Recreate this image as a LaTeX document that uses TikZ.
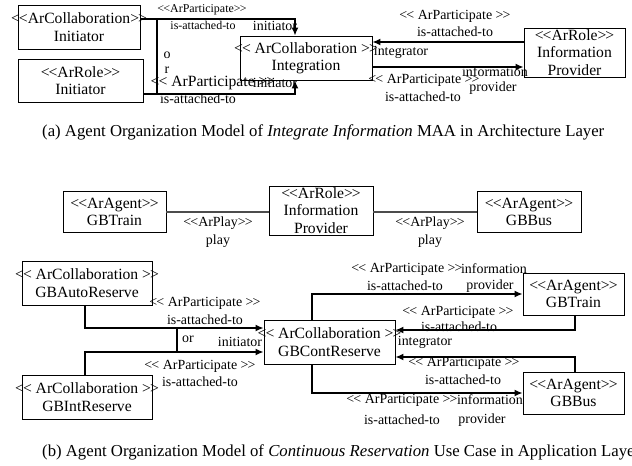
\documentclass[tikz,border=0pt]{standalone}
\usepackage{fontspec}
\setmainfont{Liberation Serif}
\usetikzlibrary{arrows.meta}
% stereotype brackets kept as two separate glyphs
\newcommand\stL{<\kern-0.06em<}
\newcommand\stR{>\kern-0.06em>}
\newcommand\boxfont{\fontsize{15.7}{17.5}\selectfont}
\newcommand\capfont{\fontsize{16.8}{19}\selectfont}
\newcommand\labfont{\fontsize{14}{15}\selectfont}
\newcommand\smallfont{\fontsize{12}{13}\selectfont}
\begin{document}
\begin{tikzpicture}[x=1bp, y=-1bp,
  bx/.style 2 args={draw, line width=0.8bp, minimum width=#1bp, minimum height=#2bp, inner sep=0pt},
  bt/.style={font=\boxfont, align=center, inner sep=0pt},
  lab/.style={font=\labfont, inner sep=0pt},
  sml/.style={font=\smallfont, inner sep=0pt},
  big/.style={font=\boxfont, inner sep=0pt},
  captxt/.style={font=\capfont, inner sep=0pt, anchor=west},
  conn/.style={line width=1.6bp, -{Latex[length=8bp,width=7bp]}},
  orline/.style={line width=1.2bp},
  playline/.style={line width=1.1bp, draw=black!70}]
\useasboundingbox (0,0) rectangle (632,466);

% ---------- (a) architecture layer ----------
\node[bx={122}{44}, label={[bt]center:{\stL ArCollaboration\stR\\Initiator}}] (a1) at (79,27) {};
\node[bx={125}{43}, label={[bt]center:{\stL ArRole\stR\\Initiator}}] (a2) at (80.5,80.5) {};
\node[bx={132}{44}, label={[bt]center:{\stL{} ArCollaboration \stR\\Integration}}] (in) at (306,58) {};
\node[bx={101}{49}, label={[bt]center:{\stL ArRole\stR\\Information\\Provider}}] (ip) at (574.5,52.5) {};

\draw[conn] ([yshift=8bp]a1.east) -| ([xshift=-11bp]in.north);
\draw[conn] ([yshift=-13.5bp]a2.east) -| ([xshift=-11bp]in.south);
\coordinate (ora) at (157,19);
\coordinate (orb) at (157,94);
\draw[orline] (ora) -- (orb);
\draw[conn] ([yshift=10.5bp]ip.west) -- ([yshift=10.5bp]ip.west -| in.east);
\draw[conn] ([yshift=-9bp]in.east) -- ([yshift=-9bp]in.east -| ip.west);

\node[sml] (pa1) at (202,10) {\stL ArParticipate\stR};
\node[sml] (pa2) at (203,25) {is-attached-to};
\node[lab] (ini1) at (275,26) {initiator};
\node[lab] (o1) at (167,55) {o};
\node[lab] (r1) at (167,70) {r};
\node[big] (pb1) at (213,83) {\stL{} ArParticipate \stR};
\node[lab] (ini2) at (275,83) {initiator};
\node[lab] (pb2) at (198,99) {is-attached-to};
\node[lab] (pc1) at (455,16) {\stL{} ArParticipate \stR};
\node[lab] (pc2) at (455,32) {is-attached-to};
\node[lab] (int1) at (401,52) {integrator};
\node[lab] (pd1) at (424,80) {\stL{} ArParticipate \stR};
\node[lab] (pd2) at (423,97) {is-attached-to};
\node[lab] (inf1) at (495,72) {information};
\node[lab] (prv1) at (493,88) {provider};

\node[captxt] (capa) at (42,132) {(a) Agent Organization Model of \textit{Integrate Information} MAA in Architecture Layer};

% ---------- (b) application layer ----------
\node[bx={103}{41}, label={[bt]center:{\stL ArAgent\stR\\GBTrain}}] (t1) at (114.5,212) {};
\node[bx={104}{49}, label={[bt]center:{\stL ArRole\stR\\Information\\Provider}}] (ip2) at (321,210.5) {};
\node[bx={104}{41}, label={[bt]center:{\stL ArAgent\stR\\GBBus}}] (b1) at (529,212) {};
\draw[playline] (t1.east) -- (t1.east -| ip2.west);
\draw[playline] (b1.west) -- (b1.west -| ip2.east);
\node[lab] (pl1) at (218,223) {\stL ArPlay\stR};
\node[lab] (pl2) at (218,241) {play};
\node[lab] (pl3) at (430,223) {\stL ArPlay\stR};
\node[lab] (pl4) at (430,241) {play};

\node[bx={130}{44}, label={[bt]center:{\stL{} ArCollaboration \stR\\GBAutoReserve}}] (ar) at (87,283) {};
\node[bx={130}{44}, label={[bt]center:{\stL{} ArCollaboration \stR\\GBIntReserve}}] (ir) at (87,397) {};
\node[bx={131}{44}, label={[bt]center:{\stL{} ArCollaboration \stR\\GBContReserve}}] (cr) at (329.5,342) {};
\node[bx={101}{42}, label={[bt]center:{\stL ArAgent\stR\\GBTrain}}] (t2) at (573.5,294) {};
\node[bx={101}{42}, label={[bt]center:{\stL ArAgent\stR\\GBBus}}] (b2) at (573.5,393) {};

\draw[conn] ([xshift=-2bp]ar.south) |- ([yshift=14bp]cr.west);
\draw[conn] ([xshift=-2bp]ir.north) |- ([yshift=-10bp]cr.west);
\coordinate (orc) at (177,328);
\coordinate (ord) at (177,352);
\draw[orline] (orc) -- (ord);
\draw[conn] ([xshift=-17.5bp]cr.north) |- (t2.west);
\draw[conn] ([xshift=1.5bp]t2.south) |- ([yshift=12bp]cr.east);
\draw[conn] ([xshift=1.5bp]b2.north) |- ([yshift=-15bp]cr.east);
\draw[conn] ([xshift=-17.5bp]cr.south) |- (b2.west);

\node[lab] (pe1) at (205,303) {\stL{} ArParticipate \stR};
\node[lab] (pe2) at (205,320) {is-attached-to};
\node[lab] (or2) at (188,339) {or};
\node[lab] (ini3) at (240,342) {initiator};
\node[lab] (pf1) at (200,366) {\stL{} ArParticipate \stR};
\node[lab] (pf2) at (200,382) {is-attached-to};
\node[lab] (pg1) at (407,269) {\stL{} ArParticipate \stR};
\node[lab] (inf2) at (494,269) {information};
\node[lab] (pg2) at (405,286) {is-attached-to};
\node[lab] (prv2) at (490,286) {provider};
\node[lab] (ph1) at (458,312) {\stL{} ArParticipate \stR};
\node[lab] (ph2) at (459,327) {is-attached-to};
\node[lab] (int2) at (425,342) {integrator};
\node[lab] (pi1) at (464,363) {\stL{} ArParticipate \stR};
\node[lab] (pi2) at (463,380) {is-attached-to};
\node[lab] (pj1) at (402,400) {\stL{} ArParticipate \stR};
\node[lab] (inf3) at (490,400) {information};
\node[lab] (pj2) at (402,420) {is-attached-to};
\node[lab] (prv3) at (482,420) {provider};

\node[captxt] (capb) at (42,452) {(b) Agent Organization Model of \textit{Continuous Reservation} Use Case in Application Layer};
\end{tikzpicture}
\end{document}
